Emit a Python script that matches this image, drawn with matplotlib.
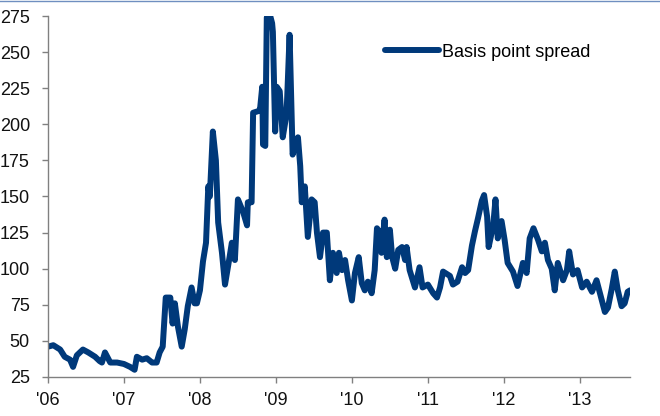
import numpy as np
import matplotlib
matplotlib.use("Agg")
import matplotlib.pyplot as plt
from matplotlib.lines import Line2D

# basis point spread, sampled at decimal-year positions
years = [2006.00, 2006.07, 2006.16, 2006.22, 2006.29, 2006.33, 2006.38, 2006.46,
         2006.53, 2006.62, 2006.68, 2006.71, 2006.75, 2006.82, 2006.91, 2007.00,
         2007.08, 2007.14, 2007.17, 2007.24, 2007.30, 2007.37, 2007.43, 2007.47,
         2007.51, 2007.55, 2007.61, 2007.64, 2007.67, 2007.71, 2007.76, 2007.80,
         2007.84, 2007.89, 2007.93, 2007.96, 2008.00, 2008.04, 2008.08, 2008.11,
         2008.13, 2008.17, 2008.21, 2008.24, 2008.29, 2008.33, 2008.39, 2008.42,
         2008.46, 2008.50, 2008.57, 2008.62, 2008.63, 2008.68, 2008.70, 2008.76,
         2008.79, 2008.82, 2008.83, 2008.86, 2008.88, 2008.92, 2008.95, 2008.96,
         2008.99, 2009.01, 2009.05, 2009.09, 2009.14, 2009.18, 2009.22, 2009.29,
         2009.32, 2009.34, 2009.38, 2009.42, 2009.47, 2009.51, 2009.54, 2009.58,
         2009.62, 2009.67, 2009.71, 2009.75, 2009.80, 2009.83, 2009.87, 2009.91,
         2009.95, 2010.00, 2010.04, 2010.09, 2010.13, 2010.17, 2010.21, 2010.26,
         2010.30, 2010.33, 2010.37, 2010.39, 2010.43, 2010.46, 2010.50, 2010.53,
         2010.57, 2010.61, 2010.66, 2010.70, 2010.72, 2010.76, 2010.83, 2010.89,
         2010.93, 2011.00, 2011.07, 2011.12, 2011.16, 2011.20, 2011.29, 2011.33,
         2011.39, 2011.45, 2011.49, 2011.53, 2011.58, 2011.62, 2011.66, 2011.71,
         2011.74, 2011.78, 2011.80, 2011.86, 2011.89, 2011.92, 2011.97, 2012.01,
         2012.05, 2012.12, 2012.18, 2012.25, 2012.30, 2012.34, 2012.39, 2012.45,
         2012.50, 2012.54, 2012.58, 2012.63, 2012.67, 2012.71, 2012.78, 2012.83,
         2012.86, 2012.91, 2012.97, 2013.03, 2013.09, 2013.16, 2013.22, 2013.26,
         2013.33, 2013.37, 2013.42, 2013.46, 2013.50, 2013.55, 2013.59, 2013.63,
         2013.66]

spread = [46, 47, 44, 39, 37, 32, 40, 44,
          42, 39, 36, 35, 42, 35, 35, 34,
          32, 30, 39, 37, 38, 35, 35, 42,
          46, 80, 80, 62, 76, 60, 46, 58,
          74, 87, 76, 76, 85, 105, 118, 157,
          150, 195, 175, 132, 111, 89, 108, 118,
          106, 148, 139, 130, 146, 146, 208, 209,
          210, 226, 186, 185, 274, 276, 270, 264,
          195, 226, 223, 191, 207, 262, 179, 191,
          171, 146, 157, 122, 148, 146, 125, 108,
          125, 125, 92, 111, 97, 111, 99, 106,
          92, 78, 97, 108, 90, 85, 91, 83,
          99, 128, 125, 111, 134, 108, 127, 108,
          100, 113, 115, 106, 115, 99, 87, 101,
          87, 89, 83, 80, 87, 98, 95, 89,
          91, 101, 97, 99, 116, 126, 135, 147,
          151, 136, 115, 130, 148, 121, 133, 120,
          104, 98, 88, 104, 97, 121, 128, 120,
          112, 118, 106, 100, 85, 104, 92, 99,
          112, 96, 99, 87, 91, 84, 92, 84,
          70, 73, 86, 98, 85, 74, 76, 84,
          85]

year_ticks = [2006, 2007, 2008, 2009, 2010, 2011, 2012, 2013]
year_labels = ["'06", "'07", "'08", "'09", "'10", "'11", "'12", "'13"]
y_ticks = [25, 50, 75, 100, 125, 150, 175, 200, 225, 250, 275]

plt.rcParams['font.family'] = ['Liberation Sans Narrow', 'Liberation Sans', 'DejaVu Sans']

fig = plt.figure(figsize=(6.6, 4.16), dpi=100)
ax = fig.add_axes([0.0727, 0.0938, 0.8818, 0.8677])

ax.plot(years, spread, color='#00397a', linewidth=4.3, solid_joinstyle='round',
        solid_capstyle='round', label='Basis point spread')

ax.set_xlim(2006, 2013.66)
ax.set_ylim(25, 275)
ax.set_xticks(year_ticks)
ax.set_xticklabels(year_labels)
ax.set_yticks(y_ticks)

for s in ['top', 'right']:
    ax.spines[s].set_visible(False)
for s in ['left', 'bottom']:
    ax.spines[s].set_color('#808080')
    ax.spines[s].set_linewidth(1.0)
ax.tick_params(axis='both', colors='#808080', length=4, width=1.0, labelsize=13,
               labelcolor='#111111')
ax.tick_params(axis='y', pad=9)
ax.tick_params(axis='x', pad=7)

ax.legend(loc='center left', bbox_to_anchor=(0.579, 0.90), frameon=False,
          fontsize=13, handlelength=3.0, handletextpad=0.15, borderpad=0,
          borderaxespad=0)

# thin rule along the top edge
fig.add_artist(Line2D([0, 1], [0.997, 0.997], color='#6f8fc0', linewidth=1.0,
                      transform=fig.transFigure))

fig.savefig('out.png', dpi=100)
